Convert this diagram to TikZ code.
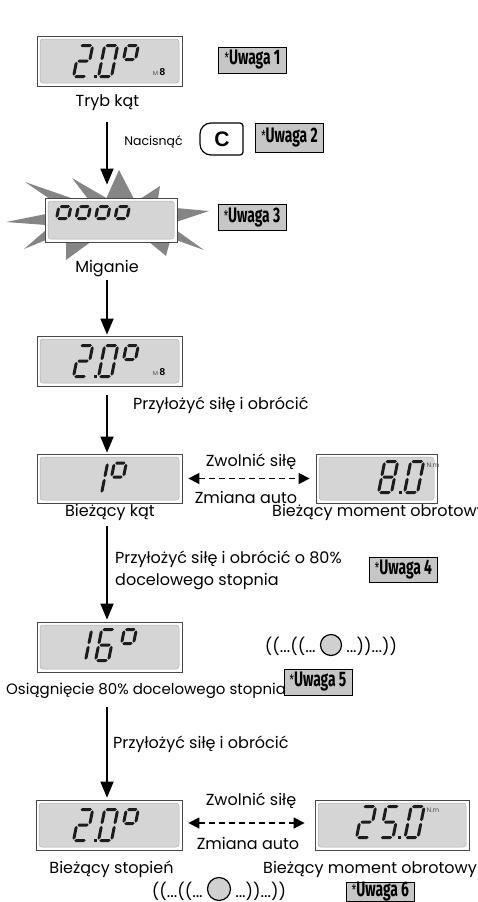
\documentclass[tikz,border=0pt]{standalone}
\usepackage{fontspec}
\setmainfont{Poppins}
\newfontfamily\notefont[FakeStretch=0.66]{Fira Sans}
\newfontfamily\keyfont{Liberation Sans}
\usetikzlibrary{arrows.meta,calc}

\definecolor{lcdbg}{HTML}{D5D5D5}
\definecolor{lcdedge}{HTML}{B0B0B0}
\definecolor{lcdrim}{HTML}{474747}
\definecolor{lcdink}{HTML}{1C1C1C}
\definecolor{notebg}{HTML}{C6C6C6}
\definecolor{flash}{HTML}{858585}
\definecolor{lamp}{HTML}{D0D0D0}

% one hexagonal LCD bar, horizontal: x from #1 to #2 at height #3
\newcommand{\lcdh}[3]{\fill[lcdink] ({#1},{#3}) -- ({#1+1.5},{#3+1.5}) -- ({#2-1.5},{#3+1.5}) -- ({#2},{#3}) -- ({#2-1.5},{#3-1.5}) -- ({#1+1.5},{#3-1.5}) -- cycle;}
% vertical bar at x=#1 from y=#2 to y=#3
\newcommand{\lcdv}[3]{\fill[lcdink] ({#1},{#2}) -- ({#1+1.5},{#2+1.5}) -- ({#1+1.5},{#3-1.5}) -- ({#1},{#3}) -- ({#1-1.5},{#3-1.5}) -- ({#1-1.5},{#2+1.5}) -- cycle;}
% seven-segment digit, origin = bottom-left, flags a b c d e f g
\newcommand{\seven}[8]{%
  \begin{scope}[shift={#1},x=1pt,y=1pt,xslant=0.2]
    \ifnum#2=1 \lcdh{0.9}{12.1}{31}\fi
    \ifnum#3=1 \lcdv{13}{16.4}{30.1}\fi
    \ifnum#4=1 \lcdv{13}{0.9}{14.6}\fi
    \ifnum#5=1 \lcdh{0.9}{12.1}{0}\fi
    \ifnum#6=1 \lcdv{0}{0.9}{14.6}\fi
    \ifnum#7=1 \lcdv{0}{16.4}{30.1}\fi
    \ifnum#8=1 \lcdh{0.9}{12.1}{15.5}\fi
  \end{scope}}
% small four-bar square (degree sign, blinking zeros)
\newcommand{\lcdsq}[3]{%
  \begin{scope}[shift={#1},x=1pt,y=1pt,xslant=0.2]
    \lcdh{0.9}{#2-0.9}{#3}
    \lcdh{0.9}{#2-0.9}{0}
    \lcdv{0}{0.9}{#3-0.9}
    \lcdv{#2}{0.9}{#3-0.9}
  \end{scope}}
\newcommand{\lcddp}[1]{\fill[lcdink] #1 rectangle ++(3,-3);}
\newcommand{\notestar}{{\mdseries\fontsize{15}{15}\selectfont\raisebox{1pt}{*}}}

\begin{document}
\begin{tikzpicture}[x=1pt,y=-1pt,
  display/.style={draw=lcdrim, line width=0.8pt, fill=white, inner sep=0pt,
    path picture={\fill[lcdbg, draw=lcdedge, line width=0.5pt, rounded corners=3pt]
      ([shift={(3pt,-3pt)}]path picture bounding box.north west) rectangle
      ([shift={(-3pt,3pt)}]path picture bounding box.south east);}},
  note/.style={draw=black, line width=0.8pt, fill=notebg, inner sep=1pt,
    minimum width=68pt, minimum height=26pt,
    font=\notefont\bfseries\fontsize{21}{21}\selectfont},
  lbl/.style={inner sep=0pt, font=\fontsize{16}{18}\selectfont},
  small/.style={inner sep=0pt, font=\fontsize{12.5}{14}\selectfont},
  unit/.style={inner sep=0pt, text=black!70, font=\fontsize{6.5}{6.5}\selectfont},
  wave/.style={inner sep=0pt, font=\fontsize{16.5}{17}\selectfont},
  lampc/.style={circle, draw, fill=lamp, line width=1.2pt, inner sep=0pt},
  flow/.style={line width=1.8pt, -{Triangle[width=13pt,length=16pt]}},
  swap/.style={line width=1.6pt, dash pattern=on 6pt off 4pt,
    {Triangle[width=11pt,length=11pt]}-{Triangle[width=11pt,length=11pt]}},
  keyline/.style={line width=1.2pt}]
\useasboundingbox (0,0) rectangle (478,902);
\coordinate (spine) at (107,0);

% ---- angle mode display
\node[display, minimum width=145pt, minimum height=50pt] (d1) at (109.5,61) {};
\seven{(73.5,76.5)}{1}{1}{0}{1}{1}{0}{1}
\lcddp{(94,78)}
\seven{(98.5,76.5)}{1}{1}{1}{1}{1}{1}{0}
\lcdsq{(123.5,59.5)}{12}{14}
\node[inner sep=0pt] (m1) at (159,72.5) {{\fontsize{6}{6}\selectfont\color{black!70}M}\,{\keyfont\bfseries\fontsize{10}{10}\selectfont 8}};
\node[lbl, anchor=base] (lab1) at (107.5,106.5) {Tryb kąt};
\node[note] (n1) at (252.5,60) {\notestar Uwaga 1};

% ---- press C
\node[small, anchor=base] (press) at (153.5,145) {Nacisnąć};
\node[inner sep=0pt, font=\keyfont\bfseries\fontsize{21}{21}\selectfont] (key) at (222,139) {C};
\draw[keyline, rounded corners=11pt] ($(key)+(0,-16)$) -- ++(-22,0) -- ++(0,32) -- ++(22,0);
\draw[keyline, rounded corners=3pt] ($(key)+(0,16)$) -- ++(21,0) -- ++(0,-32) -- ++(-21,0);
\node[note, minimum height=29pt] (n2) at (289.5,138) {\notestar Uwaga 2};

% ---- blinking display with burst
\fill[flash] (50,199) -- (74,199) -- (25,182) -- cycle;
\fill[flash] (88,199) -- (108,199) -- (72,178) -- cycle;
\fill[flash] (106,199) -- (134,199) -- (119,170) -- cycle;
\fill[flash] (140,199) -- (158,199) -- (160,186) -- cycle;
\fill[flash] (176,208) -- (176,222) -- (209,211) -- cycle;
\fill[flash] (176,230) -- (176,240) -- (204,250) -- cycle;
\fill[flash] (148,241) -- (170,241) -- (166,256) -- cycle;
\fill[flash] (66,241) -- (92,241) -- (66,260) -- cycle;
\fill[flash] (46,230) -- (46,240) -- (24,249) -- cycle;
\fill[flash] (46,214) -- (46,225) -- (6,222) -- cycle;
\node[display, minimum width=132pt, minimum height=44pt] (blink) at (111,220) {};
\lcdsq{(56.5,218.5)}{12}{12}
\lcdsq{(76,218.5)}{12}{12}
\lcdsq{(95.5,218.5)}{12}{12}
\lcdsq{(115,218.5)}{12}{12}
\node[note] (n3) at (252,217.5) {\notestar Uwaga 3};
\node[lbl, anchor=base] (lab2) at (107,272) {Miganie};

% ---- ready display
\node[display, minimum width=145pt, minimum height=50pt] (d3) at (109.5,361) {};
\seven{(73.5,376.5)}{1}{1}{0}{1}{1}{0}{1}
\lcddp{(94,378)}
\seven{(98.5,376.5)}{1}{1}{1}{1}{1}{1}{0}
\lcdsq{(123.5,359.5)}{12}{14}
\node[inner sep=0pt] (m3) at (159,372.5) {{\fontsize{6}{6}\selectfont\color{black!70}M}\,{\keyfont\bfseries\fontsize{10}{10}\selectfont 8}};
\node[lbl, anchor=base west] (t1) at (133,409) {Przyłożyć siłę i obrócić};

% ---- current angle / torque
\node[display, minimum width=145pt, minimum height=49pt] (d4) at (109.5,478.5) {};
\seven{(88.5,493.5)}{0}{1}{1}{0}{0}{0}{0}
\lcdsq{(111.5,477)}{12}{14}
\node[lbl, anchor=base] (lab4) at (110,516) {Bieżący kąt};
\node[display, minimum width=121pt, minimum height=49pt] (d4r) at (376.5,478.5) {};
\seven{(378.5,492.5)}{1}{1}{1}{1}{1}{1}{1}
\lcddp{(398.5,494)}
\seven{(404.5,492.5)}{1}{1}{1}{1}{1}{1}{0}
\node[unit] (u4) at (433,465) {N.m};
\node[lbl, anchor=base west] (lab4r) at (272,516.5) {Bieżący moment obrotowy};
\node[lbl, anchor=base] (z1) at (251,466) {Zwolnić siłę};
\node[lbl, anchor=base] (a1) at (246,503.5) {Zmiana auto};
\draw[swap] ($(d4.east)+(6,0)$) -- ($(d4r.west)+(-6,0)$);

\node[lbl, anchor=base west] (t2) at (115,563.5) {Przyłożyć siłę i obrócić o 80\%};
\node[lbl, anchor=base west] (t2b) at (115,585) {docelowego stopnia};
\node[note, minimum height=25pt] (n4) at (403.5,570) {\notestar Uwaga 4};

% ---- 80 percent reached
\node[display, minimum width=145pt, minimum height=50pt] (d5) at (109.5,647) {};
\seven{(72.5,660.5)}{0}{1}{1}{0}{0}{0}{0}
\seven{(95.5,660.5)}{1}{0}{1}{1}{1}{1}{1}
\lcdsq{(121.5,643.5)}{12}{14}
\node[lampc, minimum size=21pt] (w1c) at (331,645) {};
\node[wave, anchor=base east] (w1l) at ($(w1c.west)+(-4,7)$) {((...((...};
\node[wave, anchor=base west] (w1r) at ($(w1c.east)+(4,7)$) {...))...))};
\node[lbl, anchor=base west, font=\fontsize{15}{17}\selectfont] (lab5) at (6,694) {Osiągnięcie 80\% docelowego stopnia};
\node[note, minimum height=26pt] (n5) at (318,682) {\notestar Uwaga 5};
\node[lbl, anchor=base west] (t3) at (113,748.5) {Przyłożyć siłę i obrócić};

% ---- final degree / torque
\node[display, minimum width=146pt, minimum height=50pt] (d6) at (109,825) {};
\seven{(73.5,840.5)}{1}{1}{0}{1}{1}{0}{1}
\lcddp{(94,842)}
\seven{(98.5,840.5)}{1}{1}{1}{1}{1}{1}{0}
\lcdsq{(123.5,823.5)}{12}{14}
\node[lbl, anchor=base] (lab6) at (111.5,873) {Bieżący stopień};
\node[display, minimum width=154pt, minimum height=50pt] (d6r) at (392,825) {};
\seven{(356.5,837.5)}{1}{1}{0}{1}{1}{0}{1}
\seven{(380,837.5)}{1}{0}{1}{1}{0}{1}{1}
\lcddp{(397.5,839)}
\seven{(405,837.5)}{1}{1}{1}{1}{1}{1}{0}
\node[unit] (u6) at (433,810) {N.m};
\node[lbl, anchor=base west] (lab6r) at (263,873) {Bieżący moment obrotowy};
\node[lbl, anchor=base] (z2) at (251,805) {Zwolnić siłę};
\node[lbl, anchor=base] (a2) at (248,849) {Zmiana auto};
\draw[swap] ($(d6.east)+(6,-2)$) -- ($(d6r.west)+(-10,-2)$);
\node[lampc, minimum size=23pt] (w2c) at (219,889) {};
\node[wave, anchor=base east] (w2l) at ($(w2c.west)+(-4,8)$) {((...((...};
\node[wave, anchor=base west] (w2r) at ($(w2c.east)+(4,8)$) {...))...))};
\node[note, minimum height=17pt, inner sep=0pt] (n6) at (380.5,891.5) {\notestar Uwaga 6};

% ---- main flow
\draw[flow] ($(lab1.south -| spine)+(0,11)$) -- ($(blink.north -| spine)+(0,-13)$);
\draw[flow] ($(lab2.south -| spine)+(0,3)$) -- ($(d3.north -| spine)+(0,-1)$);
\draw[flow] ($(d3.south -| spine)+(0,9)$) -- ($(d4.north -| spine)+(0,-1)$);
\draw[flow] ($(lab4.south -| spine)+(0,6)$) -- ($(d5.north -| spine)+(0,-2)$);
\draw[flow] ($(lab5.south -| spine)+(0,9)$) -- ($(d6.north -| spine)+(0,-2)$);
\end{tikzpicture}
\end{document}
